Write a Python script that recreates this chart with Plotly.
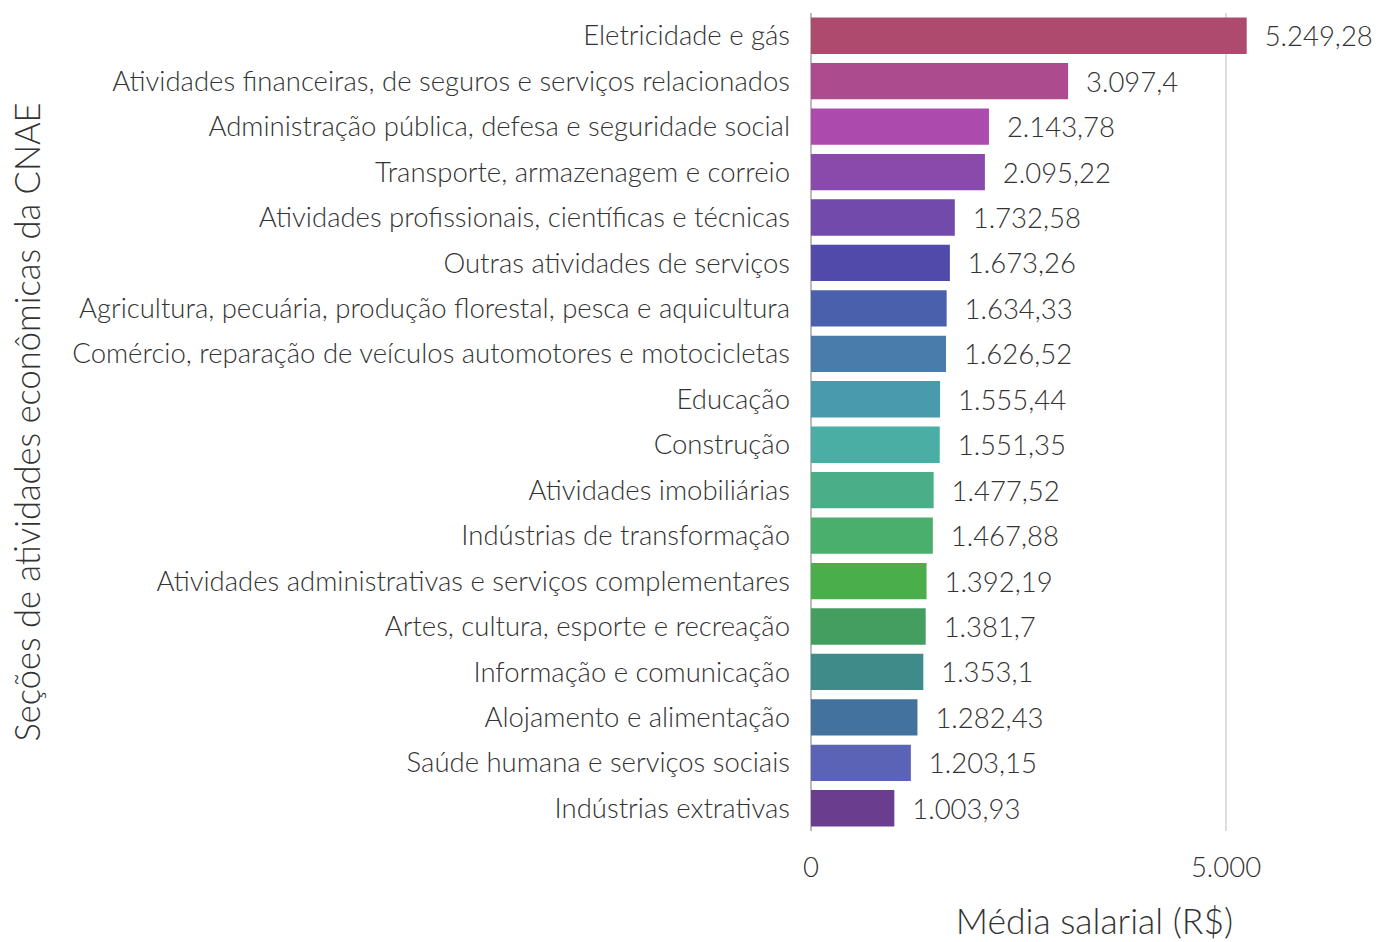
import plotly.graph_objects as go

categories = [
    "Eletricidade e gás",
    "Atividades financeiras, de seguros e serviços relacionados",
    "Administração pública, defesa e seguridade social",
    "Transporte, armazenagem e correio",
    "Atividades profissionais, científicas e técnicas",
    "Outras atividades de serviços",
    "Agricultura, pecuária, produção florestal, pesca e aquicultura",
    "Comércio, reparação de veículos automotores e motocicletas",
    "Educação",
    "Construção",
    "Atividades imobiliárias",
    "Indústrias de transformação",
    "Atividades administrativas e serviços complementares",
    "Artes, cultura, esporte e recreação",
    "Informação e comunicação",
    "Alojamento e alimentação",
    "Saúde humana e serviços sociais",
    "Indústrias extrativas",
]
values = [5249.28, 3097.4, 2143.78, 2095.22, 1732.58, 1673.26, 1634.33, 1626.52,
          1555.44, 1551.35, 1477.52, 1467.88, 1392.19, 1381.7, 1353.1, 1282.43,
          1203.15, 1003.93]
colors = ["#AE4A6E", "#AD4B8F", "#AD4AAD", "#8A4AAB", "#714AAB", "#524AAB",
          "#4A60AD", "#4A7CAB", "#4A9AAD", "#4AAEA4", "#4AAE88", "#4AAE6C",
          "#4AAE4A", "#449E60", "#3E8B8A", "#44729E", "#5A63B5", "#6A3D8E"]

FONT = "Lato"
fig = go.Figure(go.Bar(
    x=values, y=categories, orientation="h",
    marker=dict(color=colors, line=dict(width=0)),
    width=0.8,
    texttemplate="\u00a0\u00a0%{x:,}",
    textposition="outside", cliponaxis=False,
    textfont=dict(family=FONT, size=27.5, color="#333333", weight=300),
    hoverinfo="skip",
))
fig.update_layout(
    width=1378, height=942,
    paper_bgcolor="white", plot_bgcolor="white",
    separators=",.",
    margin=dict(l=811, r=0, t=13, b=111, autoexpand=False),
    showlegend=False,
    font=dict(family=FONT, color="#333333", weight=300),
    xaxis=dict(
        range=[0, 6831], tickvals=[0, 5000], automargin=False,
        tickformat=",", showgrid=True, gridcolor="#dddddd", gridwidth=2,
        zeroline=True, zerolinecolor="#bbbbbb", zerolinewidth=2,
        ticks="", ticklabelstandoff=17,
        tickfont=dict(family=FONT, size=27.5, color="#333333", weight=300),
        title=dict(text="Média salarial (R$)", standoff=38,
                   font=dict(family=FONT, size=35.5, color="#333333", weight=300)),
    ),
    yaxis=dict(
        categoryorder="array", categoryarray=categories[::-1],
        autorange=True, showgrid=False, zeroline=False, ticks="",
        automargin=False, ticklabelstandoff=20,
        tickfont=dict(family=FONT, size=27.5, color="#333333", weight=300),
        title=dict(text="Seções de atividades econômicas da CNAE", standoff=21,
                   font=dict(family=FONT, size=34.5, color="#333333", weight=300)),
    ),
)
fig.write_html("out.html", config={"displayModeBar": False},
               post_script="document.body.style.margin='0';")
